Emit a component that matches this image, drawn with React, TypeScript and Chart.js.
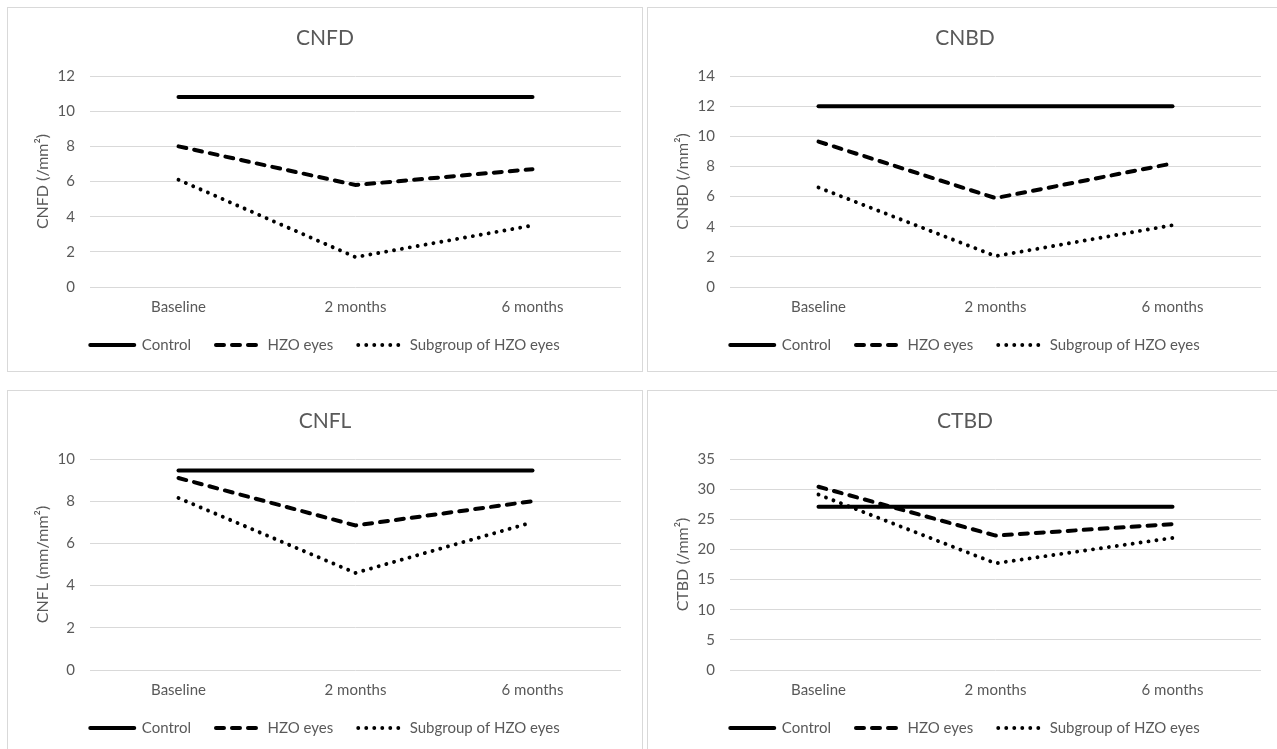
import React, { useEffect, useRef } from "react";
import { Chart, registerables } from "chart.js";

Chart.register(...registerables);

const categories = ["Baseline", "2 months", "6 months"];
const seriesNames = ["Control", "HZO eyes", "Subgroup of HZO eyes"];

const cnfdControl = [10.8, 10.8, 10.8];
const cnfdHzo = [8.0, 5.8, 6.7];
const cnfdSubgroup = [6.1, 1.7, 3.5];

const cnbdControl = [12.0, 12.0, 12.0];
const cnbdHzo = [9.65, 5.9, 8.2];
const cnbdSubgroup = [6.6, 2.05, 4.1];

const cnflControl = [9.45, 9.45, 9.45];
const cnflHzo = [9.1, 6.85, 8.0];
const cnflSubgroup = [8.15, 4.6, 7.0];

const ctbdControl = [27.1, 27.1, 27.1];
const ctbdHzo = [30.4, 22.3, 24.2];
const ctbdSubgroup = [29.1, 17.7, 21.9];

const FONT = "Lato";
const TEXT = "#595959";
const GRID = "#d9d9d9";
const LINE = "#000";

type PanelProps = {
  title: string;
  yTitle: string;
  max: number;
  step: number;
  control: number[];
  hzo: number[];
  subgroup: number[];
  left: number;
  top: number;
};

function Panel(p: PanelProps) {
  const ref = useRef<HTMLCanvasElement | null>(null);
  useEffect(() => {
    if (!ref.current) return;
    const chart = new Chart(ref.current, {
      type: "line",
      data: {
        labels: categories,
        datasets: [
          {
            label: seriesNames[0],
            data: p.control,
            borderColor: LINE,
            backgroundColor: LINE,
            borderWidth: 4,
            pointRadius: 0,
            borderCapStyle: "round",
            tension: 0,
          },
          {
            label: seriesNames[1],
            data: p.hzo,
            borderColor: LINE,
            backgroundColor: LINE,
            borderWidth: 4,
            borderDash: [8, 8],
            borderCapStyle: "round",
            pointRadius: 0,
            tension: 0,
          },
          {
            label: seriesNames[2],
            data: p.subgroup,
            borderColor: LINE,
            backgroundColor: LINE,
            borderWidth: 3.9,
            borderDash: [0.01, 8],
            borderCapStyle: "round",
            pointRadius: 0,
            tension: 0,
          },
        ],
      },
      options: {
        animation: false,
        responsive: false,
        events: [],
        layout: { padding: { top: 0, left: 0, right: 0, bottom: 8.5 } },
        plugins: {
          title: {
            display: true,
            text: p.title,
            color: TEXT,
            font: { family: FONT, size: 21, weight: "normal" },
            padding: { top: 17.4, bottom: 25.4 },
          },
          legend: {
            position: "bottom",
            labels: {
              usePointStyle: true,
              pointStyle: "line",
              pointStyleWidth: 44,
              color: TEXT,
              font: { family: FONT, size: 15 },
              padding: 25,
              generateLabels: (c: any) =>
                c.data.datasets.map((ds: any, i: number) => ({
                  text: ds.label,
                  fillStyle: LINE,
                  strokeStyle: LINE,
                  fontColor: TEXT,
                  lineWidth: ds.borderWidth,
                  lineDash: ds.borderDash || [],
                  lineCap: ds.borderCapStyle,
                  pointStyle: "line",
                  hidden: false,
                  datasetIndex: i,
                })),
            },
          },
          tooltip: { enabled: false },
        },
        scales: {
          x: {
            offset: true,
            grid: { display: false, drawTicks: false },
            border: { display: false },
            ticks: { color: TEXT, font: { family: FONT, size: 15 }, padding: 11 },
            afterFit: (s: any) => {
              s.height = 25.5;
              s._computeLabelArea = () => undefined;
            },
          },
          y: {
            min: 0,
            max: p.max,
            ticks: { stepSize: p.step, color: TEXT, font: { family: FONT, size: 15 }, padding: 15 },
            grid: { color: GRID, drawTicks: false, lineWidth: 1 },
            border: { display: false },
            title: {
              display: true,
              text: p.yTitle,
              color: TEXT,
              font: { family: FONT, size: 16 },
              padding: { top: 25.5, bottom: 0 },
            },
            afterFit: (s: any) => {
              s.width = 82;
            },
          },
          yRight: {
            position: "right",
            display: true,
            grid: { display: false, drawTicks: false },
            border: { display: false },
            ticks: { display: false },
            afterFit: (s: any) => {
              s.width = 21;
            },
          },
        },
      },
    } as any);
    return () => chart.destroy();
  }, []);
  return (
    <div
      style={{
        position: "absolute",
        left: p.left,
        top: p.top,
        width: 636,
        height: 365,
        border: `1px solid ${GRID}`,
        boxSizing: "border-box",
        background: "#fff",
      }}
    >
      <canvas ref={ref} width={634} height={363} style={{ display: "block" }} />
    </div>
  );
}

export default function App() {
  return (
    <div
      style={{
        position: "absolute",
        left: 0,
        top: 0,
        width: 1277,
        height: 749,
        overflow: "hidden",
        background: "#fff",
      }}
    >
      <Panel title="CNFD" yTitle="CNFD (/mm²)" max={12} step={2} control={cnfdControl} hzo={cnfdHzo} subgroup={cnfdSubgroup} left={7} top={7} />
      <Panel title="CNBD" yTitle="CNBD (/mm²)" max={14} step={2} control={cnbdControl} hzo={cnbdHzo} subgroup={cnbdSubgroup} left={647} top={7} />
      <Panel title="CNFL" yTitle="CNFL (mm/mm²)" max={10} step={2} control={cnflControl} hzo={cnflHzo} subgroup={cnflSubgroup} left={7} top={390} />
      <Panel title="CTBD" yTitle="CTBD (/mm²)" max={35} step={5} control={ctbdControl} hzo={ctbdHzo} subgroup={ctbdSubgroup} left={647} top={390} />
    </div>
  );
}
